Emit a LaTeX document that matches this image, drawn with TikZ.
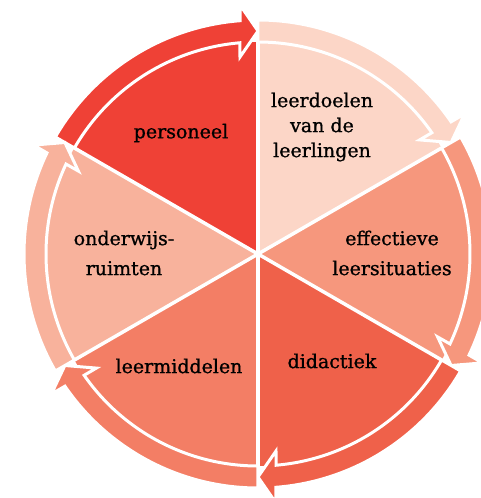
\documentclass[tikz,border=0pt]{standalone}
\usepackage{fontspec}
\setmainfont{DejaVu Serif}[UprightFeatures={FakeBold=0.9}]
\usetikzlibrary{calc}

\definecolor{persRed}{RGB}{239,65,54}
\definecolor{goalPeach}{RGB}{252,214,199}
\definecolor{sitSalmon}{RGB}{246,151,125}
\definecolor{didRed}{RGB}{239,97,74}
\definecolor{toolCoral}{RGB}{243,126,101}
\definecolor{roomPink}{RGB}{248,178,156}

\begin{document}
\begin{tikzpicture}[
		x=1pt, y=1pt,
		% Pie styles
		divider/.style={draw=white, line width=3.5pt},
		% Ring arrow styles
		ringarrow/.style={draw=white, line width=3pt, line join=miter},
		% Text styles
		sectortext/.style={font=\fontsize{19}{25}\selectfont, align=center, text=black, inner sep=0pt},
		widetext/.style={sectortext, font=\fontsize{19}{30}\selectfont}
		]
		\useasboundingbox (-258,-244) rectangle (222,254);
		
		% --- PIE SECTORS ---
		\foreach \e/\c in {90/persRed, 30/goalPeach, -30/sitSalmon, -90/didRed, -150/toolCoral, 150/roomPink}{
			\fill[\c] (0,0) -- ({\e}:212) arc[start angle=\e, end angle=\e+60, radius=212] -- cycle;
		}
		\foreach \e in {90, 30, -30, -90, -150, 150}{
			\draw[divider] (0,0) -- ({\e}:212);
		}
		
		% --- RING ARROWS (clockwise) ---
		\foreach \e/\c in {90/persRed, 30/goalPeach, -30/sitSalmon, -90/didRed, -150/toolCoral, 150/roomPink}{
			\fill[\c, ringarrow]
			({\e+60}:234) arc[start angle=\e+60, end angle=\e+4.4, radius=234]
			-- ($({\e}:223)+({\e+90}:18)+({\e}:26)$)
			-- ({\e}:223)
			-- ($({\e}:223)+({\e+90}:18)+({\e}:-26)$)
			-- ({\e+4.9}:212) arc[start angle=\e+4.9, end angle=\e+60, radius=212]
			-- cycle;
		}
		
		% --- LABELS ---
		\node[sectortext] (pers) at (-77,121) {personeel};
		\node[sectortext] (goal) at (64,127) {leerdoelen\\van de\\leerlingen};
		\node[widetext] (sit) at (134,1) {effectieve\\leersituaties};
		\node[sectortext] (did) at (74,-107) {didactiek};
		\node[sectortext] (tool) at (-79,-112) {leermiddelen};
		\node[widetext] (room) at (-134,1) {onderwijs-\\ruimten};
		
	\end{tikzpicture}
\end{document}
